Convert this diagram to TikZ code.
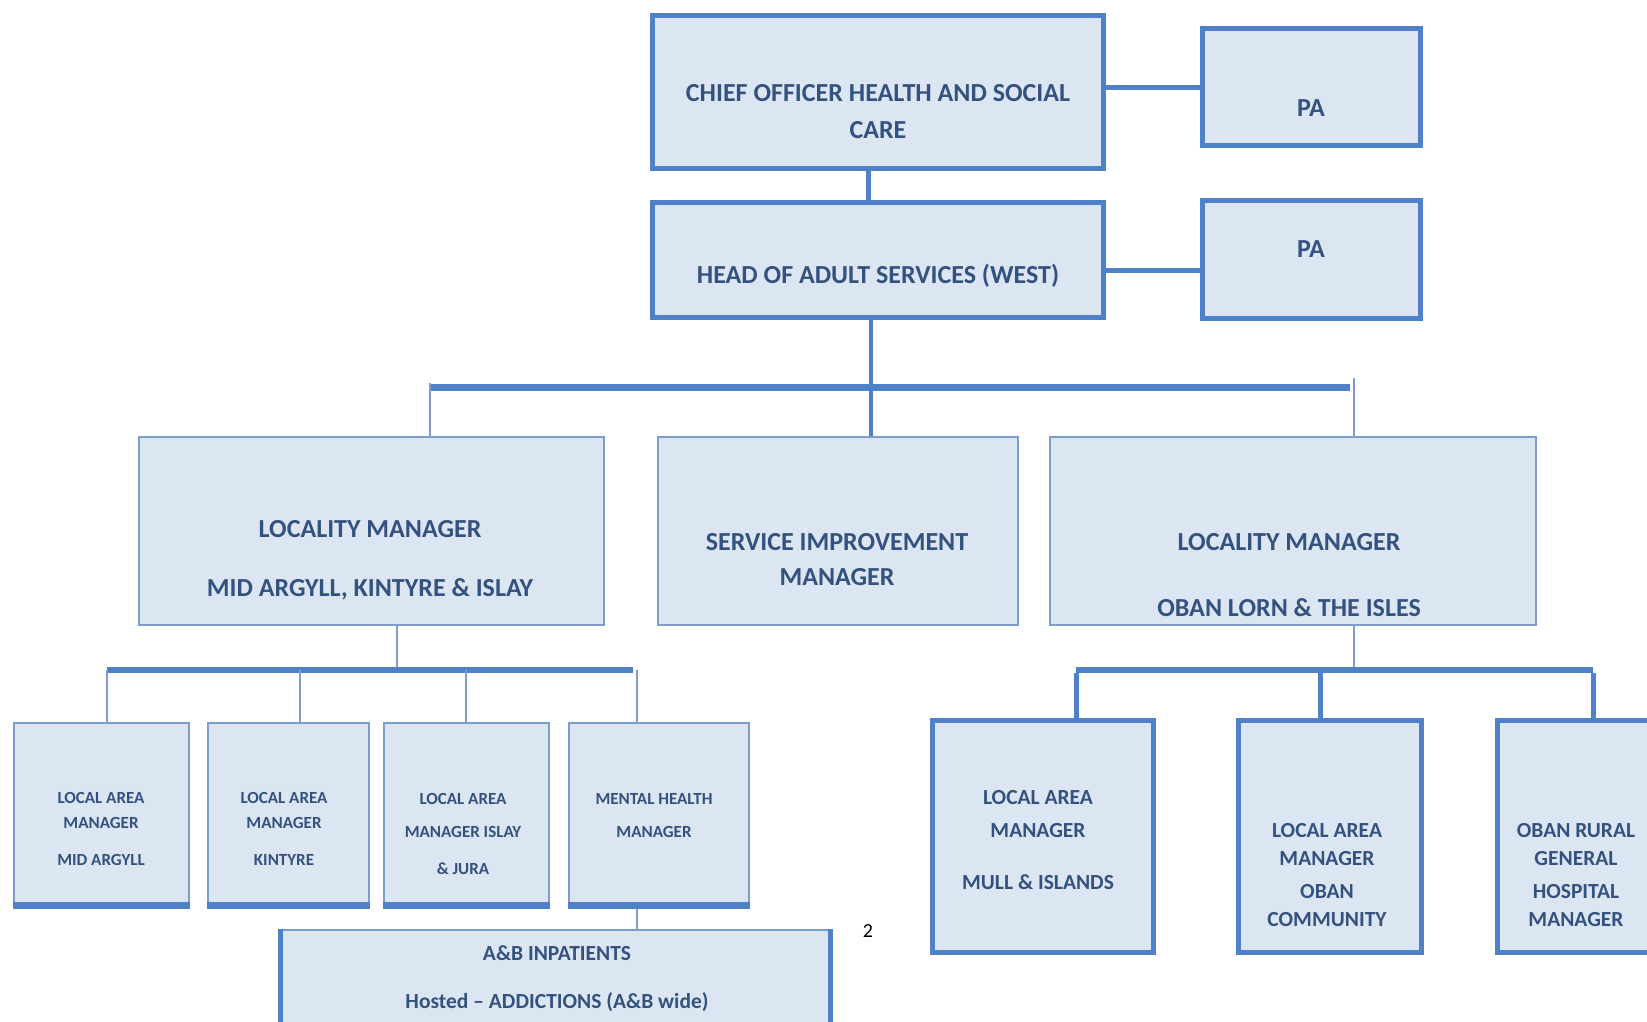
\documentclass[tikz,border=0pt]{standalone}
\usepackage{fontspec}
\setmainfont{Carlito}
\usetikzlibrary{positioning}
\definecolor{boxfill}{HTML}{DCE6F2}
\definecolor{boxline}{HTML}{4F81C9}
\definecolor{thinline}{HTML}{7F9DCC}
\definecolor{boxtext}{HTML}{34527F}
\tikzset{
  heavybox/.style={draw=boxline, line width=5pt, fill=boxfill, inner sep=0pt},
  lightbox/.style={draw=thinline, line width=1.2pt, fill=boxfill, inner sep=0pt},
  boxlabel/.style={text=boxtext, align=center, inner sep=0pt, font=\bfseries\fontsize{26}{30}\selectfont},
  smalllabel/.style={boxlabel, font=\bfseries\fontsize{17}{25}\selectfont},
  midlabel/.style={boxlabel, font=\bfseries\fontsize{21.5}{28}\selectfont},
  thickline/.style={draw=boxline, line width=5pt},
  barline/.style={draw=boxline, line width=7pt},
  thinconn/.style={draw=thinline, line width=1.2pt}
}
\begin{document}
\begin{tikzpicture}[x=1pt, y=-1pt]
    \useasboundingbox (0,0) rectangle (1647,1021);

    % Top of the chart
    \node [heavybox, minimum width=451, minimum height=153] (chief) at (877.5,91.5) {};
    \node [heavybox, minimum width=218, minimum height=117] (pa1) at (1311,86.5) {};
    \node [heavybox, minimum width=451, minimum height=115] (head) at (877.5,259.5) {};
    \node [heavybox, minimum width=218, minimum height=118] (pa2) at (1311,259) {};
    \node [boxlabel] (lchief) at (878,112) {CHIEF OFFICER HEALTH AND SOCIAL\\[7pt]CARE};
    \node [boxlabel] (lpa1) at (1311,108) {PA};
    \node [boxlabel] (lhead) at (878,276) {HEAD OF ADULT SERVICES (WEST)};
    \node [boxlabel] (lpa2) at (1311,249) {PA};
    \draw [thickline] ([yshift=4pt]chief.east) -- ([yshift=4pt]chief.east -| pa1.west);
    \draw [thickline] ([yshift=-11pt]head.east) -- ([yshift=-11pt]head.east -| pa2.west);
    \draw [thickline] ([xshift=-9pt]chief.south) -- ([xshift=-9pt]head.north);

    % Locality level
    \node [lightbox, minimum width=465, minimum height=188] (lmwest) at (371.5,531) {};
    \node [lightbox, minimum width=360, minimum height=188] (sim) at (838,531) {};
    \node [lightbox, minimum width=486, minimum height=188] (lmoban) at (1293,531) {};
    \node [boxlabel] (llmwest) at (370,560) {LOCALITY MANAGER\\[29pt]MID ARGYLL, KINTYRE \& ISLAY};
    \node [boxlabel] (lsim) at (837,560) {SERVICE IMPROVEMENT\\[5pt]MANAGER};
    \node [boxlabel] (llmoban) at (1289,575) {LOCALITY MANAGER\\[36pt]OBAN LORN \& THE ISLES};
    \coordinate (barw) at (430,387);
    \coordinate (baro) at (1350,387);
    \draw [barline] (barw) -- (baro);
    \draw [thickline, line width=4pt] ([xshift=-7pt]head.south) -- ([xshift=-7pt]head.south |- sim.north);
    \draw [thinconn] (430,383) -- (barw |- lmwest.north);
    \draw [thinconn] (1354,378) -- (1354,437);

    % Mid Argyll, Kintyre & Islay
    \coordinate (dw) at (397,670);
    \coordinate (d1) at (107,670);
    \coordinate (d2) at (300,670);
    \coordinate (d3) at (466,670);
    \coordinate (d4) at (637,670);
    \draw [thinconn] (dw |- lmwest.south) -- (dw);
    \draw [barline, line width=6pt] (d1) -- (633,670);
    \node [lightbox, minimum width=175, minimum height=185] (lam1) at (101.5,815.5) {};
    \node [lightbox, minimum width=161, minimum height=185] (lam2) at (288.5,815.5) {};
    \node [lightbox, minimum width=165, minimum height=185] (lam3) at (466.5,815.5) {};
    \node [lightbox, minimum width=180, minimum height=185] (mhm) at (659,815.5) {};
    \foreach \b in {lam1,lam2,lam3,mhm}
        \draw [draw=boxline, line width=7pt] ([yshift=3.5pt]\b.south west) -- ([yshift=3.5pt]\b.south east);
    \draw [thinconn] (d1) -- (d1 |- lam1.north);
    \draw [thinconn] (d2) -- (d2 |- lam2.north);
    \draw [thinconn] (d3) -- (d3 |- lam3.north);
    \draw [thinconn] (d4) -- (d4 |- mhm.north);
    \node [smalllabel] (llam1) at (101,829) {LOCAL AREA\\MANAGER\\[12pt]MID ARGYLL};
    \node [smalllabel] (llam2) at (284,829) {LOCAL AREA\\MANAGER\\[12pt]KINTYRE};
    \node [smalllabel] (llam3) at (463,834) {LOCAL AREA\\[8pt]MANAGER ISLAY\\[12pt]\& JURA};
    \node [smalllabel] (lmhm) at (654,815.5) {MENTAL HEALTH\\[8pt]MANAGER};

    % Inpatients box, runs off the page
    \node [lightbox, minimum width=549, minimum height=110] (inp) at (555.5,985) {};
    \draw [draw=boxline, line width=5pt] (inp.north west) -- (inp.south west);
    \draw [draw=boxline, line width=5pt] (inp.north east) -- (inp.south east);
    \draw [thinconn] (d4 |- mhm.south) -- (d4 |- inp.north);
    \node [boxlabel, font=\bfseries\fontsize{21.5}{26}\selectfont] (linp) at (557,979) {A\&B INPATIENTS\\[22pt]Hosted -- ADDICTIONS (A\&B wide)};
    \node [text=black, font=\fontsize{20}{22}\selectfont] (pageno) at (868,931) {2};

    % Oban, Lorn & the Isles
    \coordinate (do) at (1354,670);
    \coordinate (e1) at (1076,670);
    \coordinate (e2) at (1320,670);
    \coordinate (e3) at (1593,670);
    \draw [thinconn] (do |- lmoban.south) -- (do);
    \draw [barline, line width=6pt] (e1) -- (e3);
    \node [heavybox, minimum width=221, minimum height=232] (lamm) at (1042.5,836) {};
    \node [heavybox, minimum width=183, minimum height=232] (lamo) at (1329.5,836) {};
    \node [heavybox, minimum width=183, minimum height=232] (orgh) at (1588.5,836) {};
    \draw [thickline] ([yshift=-3pt]e1) -- (e1 |- lamm.north);
    \draw [thickline] ([yshift=-3pt]e2) -- (e2 |- lamo.north);
    \draw [thickline] ([yshift=-3pt]e3) -- (e3 |- orgh.north);
    \node [midlabel] (llamm) at (1038,840) {LOCAL AREA\\[5pt]MANAGER\\[24pt]MULL \& ISLANDS};
    \node [midlabel] (llamo) at (1327,875) {LOCAL AREA\\MANAGER\\[5pt]OBAN\\COMMUNITY};
    \node [midlabel] (lorgh) at (1576,875) {OBAN RURAL\\GENERAL\\[5pt]HOSPITAL\\MANAGER};
\end{tikzpicture}
\end{document}
